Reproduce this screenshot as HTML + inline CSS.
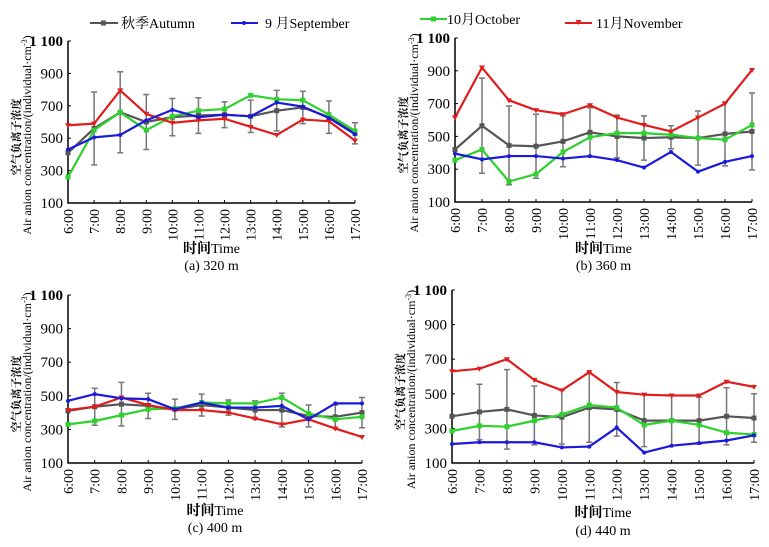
<!DOCTYPE html>
<html><head><meta charset="utf-8">
<style>
html,body{margin:0;padding:0;background:#fff;}
svg{display:block;font-family:"Liberation Serif","Noto Serif CJK SC","Noto Sans CJK SC",serif;}
</style></head>
<body>
<svg id="chart" width="769" height="547" viewBox="0 0 769 547" xmlns="http://www.w3.org/2000/svg">
  <g>
    <g>
      <line x1="90" y1="23" x2="118" y2="23" stroke="#555" stroke-width="2"/>
      <rect x="101" y="20.5" width="5" height="5" fill="#555"/>
      <text x="121" y="28" font-size="14">秋季Autumn</text>
    </g>
    <g>
      <line x1="231" y1="23" x2="258" y2="23" stroke="#1a1adc" stroke-width="2"/>
      <circle cx="244" cy="23" r="2" fill="#1a1adc"/>
      <text x="265" y="28" font-size="14">9 月September</text>
    </g>
    <g>
      <line x1="420" y1="19" x2="447" y2="19" stroke="#2ed12e" stroke-width="2"/>
      <rect x="431" y="16.5" width="5" height="5" fill="#2ed12e"/>
      <text x="447" y="24" font-size="14">10月October</text>
    </g>
    <g>
      <line x1="565" y1="23" x2="592" y2="23" stroke="#e01c1c" stroke-width="2"/>
      <path d="M575.5 20 L581.5 20 L578.5 25 Z" fill="#e01c1c"/>
      <text x="596" y="28" font-size="14">11月November</text>
    </g>
  </g>
</svg>
<script>
const hours = ["6:00","7:00","8:00","9:00","10:00","11:00","12:00","13:00","14:00","15:00","16:00","17:00"];
const yTicks = [100,300,500,700,900,1100];
const yTickLabels = ["100","300","500","700","900","1 100"];
const panelTitles = ["(a) 320 m","(b) 360 m","(c) 400 m","(d) 440 m"];

const autumnA = [410,560,660,600,630,640,645,635,670,690,630,530];
const autumnErrA = [0,225,250,170,115,110,80,100,125,100,100,65];
const septA = [430,505,520,610,675,630,645,635,720,695,625,525];
const octA = [260,550,660,550,635,670,680,765,740,735,645,545];
const novA = [580,590,795,650,595,610,620,570,520,615,605,485];

const autumnB = [420,565,445,440,470,525,500,490,495,490,515,530];
const autumnErrB = [0,290,240,195,155,150,130,135,70,165,195,235];
const septB = [395,360,380,380,365,380,355,310,405,285,345,380];
const octB = [355,420,225,270,405,495,520,520,510,490,480,570];
const novB = [615,920,720,660,635,690,615,570,530,615,700,905];

const autumnC = [410,435,450,440,420,445,430,415,415,380,375,400];
const autumnErrC = [0,110,130,75,60,65,45,55,100,65,70,90];
const septC = [470,510,485,480,420,460,430,430,440,360,455,455];
const octC = [330,350,385,420,425,460,455,455,490,395,360,375];
const novC = [415,435,490,445,415,415,400,365,330,360,305,255];

const autumnD = [370,395,410,375,365,420,410,345,345,345,370,360];
const autumnErrD = [0,160,230,170,155,200,155,150,145,135,165,140];
const septD = [210,220,220,220,190,195,305,160,200,215,230,260];
const octD = [285,315,310,345,380,435,420,320,345,320,275,265];
const novD = [630,645,700,580,520,625,510,495,490,490,570,540];

const panels = [
  {name:"panel-a-320m", x0:68, x1:355, yTop:41, yBot:203, au:autumnA, ae:autumnErrA, se:septA, oc:octA, no:novA, title:panelTitles[0], tY:253, cY:270},
  {name:"panel-b-360m", x0:455, x1:752, yTop:38, yBot:202, au:autumnB, ae:autumnErrB, se:septB, oc:octB, no:novB, title:panelTitles[1], tY:253, cY:270},
  {name:"panel-c-400m", x0:68, x1:362, yTop:295, yBot:463, au:autumnC, ae:autumnErrC, se:septC, oc:octC, no:novC, title:panelTitles[2], tY:515, cY:532},
  {name:"panel-d-440m", x0:452, x1:754, yTop:290, yBot:463, au:autumnD, ae:autumnErrD, se:septD, oc:octD, no:novD, title:panelTitles[3], tY:517, cY:535}
];
const NS = "http://www.w3.org/2000/svg";
const svg = document.getElementById("chart");
function mk(tag, attrs, parent){
  const e = document.createElementNS(NS, tag);
  for (const k in attrs) e.setAttribute(k, attrs[k]);
  parent.appendChild(e);
  return e;
}
panels.forEach(p => {
  const g = mk("g", {}, svg);
  
  
  const xs = i => p.x0 + (p.x1 - p.x0) * i / (hours.length - 1);
  const ys = v => p.yBot - (v - 100) / 1000 * (p.yBot - p.yTop);
  const ax = mk("path", {d:`M${p.x0} ${p.yTop} V${p.yBot} H${p.x1}`, fill:"none", stroke:"#000", "stroke-width":1.5}, g);
  
  
  yTicks.forEach((t, i) => {
    const y = ys(t);
    mk("line", {x1:p.x0, x2:p.x0 + 3, y1:y, y2:y, stroke:"#000", "stroke-width":1}, g);
    const tx = mk("text", {x:p.x0 - 5, y:y + 5, "font-size":15, "text-anchor":"end", "font-weight": i === 5 ? "bold" : "normal"}, g);
    tx.textContent = yTickLabels[i];
    
    
  });
  hours.forEach((h, i) => {
    const x = xs(i);
    mk("line", {x1:x, x2:x, y1:p.yBot, y2:p.yBot - 3, stroke:"#000", "stroke-width":1}, g);
    const tx = mk("text", {x:0, y:0, "font-size":14, "text-anchor":"end", transform:`translate(${x + 5},${p.yBot + 6}) rotate(-90)`}, g);
    tx.textContent = h;
    
    
  });
  const cy = (p.yTop + p.yBot) / 2;
  const yt1 = mk("text", {x:0, y:0, "font-size":11, "font-weight":"bold", "text-anchor":"middle", transform:`translate(${p.x0 - 48},${cy + 15}) rotate(-90)`}, g);
  yt1.textContent = "空气负离子浓度";
  
  
  const yt2 = mk("text", {x:0, y:0, "font-size":12, "text-anchor":"middle", transform:`translate(${p.x0 - 37},${cy + 13}) rotate(-90)`}, g);
  yt2.innerHTML = "Air anion concentration/(individual·cm<tspan baseline-shift='super' font-size='8'>-3</tspan>)";
  
  
  const xt = mk("text", {x:(p.x0 + p.x1) / 2, y:p.tY, "font-size":14, "text-anchor":"middle"}, g);
  xt.innerHTML = "<tspan font-weight='bold'>时间</tspan>Time";
  
  
  const ct = mk("text", {x:(p.x0 + p.x1) / 2, y:p.cY, "font-size":14, "text-anchor":"middle"}, g);
  ct.textContent = p.title;
  
  
  p.au.forEach((v, i) => {
    const e = p.ae[i];
    if (!e) return;
    const x = xs(i);
    const eb = mk("path", {d:`M${x} ${ys(v - e)} V${ys(v + e)} M${x - 3} ${ys(v - e)} H${x + 3} M${x - 3} ${ys(v + e)} H${x + 3}`, stroke:"#777", "stroke-width":1.5, fill:"none"}, g);
    
    
  });
  const series = [
    {k:"autumn", d:p.au, c:"#555", m:"sq"},
    {k:"october", d:p.oc, c:"#2ed12e", m:"sq"},
    {k:"november", d:p.no, c:"#e01c1c", m:"tri"},
    {k:"september", d:p.se, c:"#1a1adc", m:"dot"}
  ];
  series.forEach(s => {
    const pts = s.d.map((v, i) => `${xs(i)},${ys(v)}`).join(" ");
    const line = mk("polyline", {points:pts, fill:"none", stroke:s.c, "stroke-width":2.2, "stroke-linejoin":"round"}, g);
    
    
    s.d.forEach((v, i) => {
      const x = xs(i), y = ys(v);
      let m;
      if (s.m === "sq") m = mk("rect", {x:x - 2.5, y:y - 2.5, width:5, height:5, fill:s.c}, g);
      else if (s.m === "tri") m = mk("path", {d:`M${x - 3} ${y - 2} L${x + 3} ${y - 2} L${x} ${y + 3} Z`, fill:s.c}, g);
      else m = mk("circle", {cx:x, cy:y, r:2, fill:s.c}, g);
      
      
    });
  });
});
</script>
</body></html>
